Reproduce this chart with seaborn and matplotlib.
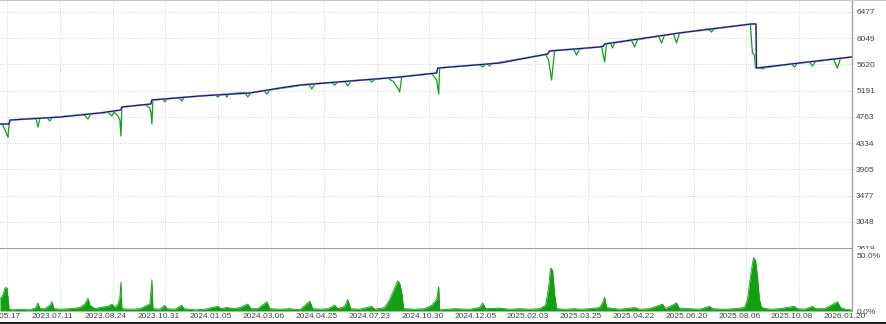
import numpy as np
import pandas as pd
import seaborn as sns
import matplotlib
matplotlib.use("Agg")
import matplotlib.pyplot as plt
from matplotlib.lines import Line2D
from matplotlib.patches import Rectangle
from matplotlib.transforms import ScaledTranslation

# ---------------- data ----------------
date_labels = ["2023.05.17", "2023.07.11", "2023.08.24", "2023.10.31", "2024.01.05",
               "2024.03.06", "2024.04.25", "2024.07.23", "2024.10.30", "2024.12.05",
               "2025.02.03", "2025.03.25", "2025.04.22", "2025.06.20", "2025.08.06",
               "2025.10.08", "2026.01.20"]
date_pos = [0, 10, 20, 30, 40, 50, 60, 70, 80, 90, 100, 110, 120, 130, 140, 150, 160]

price_ticks = [6477, 6049, 5620, 5191, 4763, 4334, 3905, 3477, 3048, 2619]

balance_x = [-1.32, 0.38, 0.57, 10.03, 17.60, 21.57, 21.76, 27.25, 27.44, 36.52,
             45.98, 51.66, 55.44, 74.36, 81.36, 81.55, 93.28, 102.36, 102.74,
             112.20, 112.96, 113.15, 127.34, 140.96, 141.82, 141.91, 150.05, 159.89]
balance_y = [4646, 4646, 4711, 4760, 4826, 4875, 4924, 4973, 5038, 5104,
             5153, 5234, 5283, 5414, 5480, 5561, 5643, 5790, 5839,
             5905, 5921, 5954, 6134, 6281, 6281, 5561, 5643, 5741]

equity_x = [-1.32, -0.76, 0.00, 0.19, 0.38, 0.57, 5.49, 5.87, 6.24, 7.57, 8.14, 8.51,
            14.57, 15.33, 15.89, 19.11, 19.87, 20.25, 21.00, 21.38, 21.57, 21.76,
            26.11, 27.06, 27.25, 27.44, 27.63, 29.52, 29.90, 30.27, 32.55, 33.11, 33.49,
            39.36, 39.92, 40.49, 41.25, 41.63, 42.01, 45.03, 45.60, 46.17,
            48.63, 49.20, 49.76, 57.14, 57.71, 58.28, 61.49, 62.06, 62.63,
            63.95, 64.52, 65.09, 68.50, 69.06, 69.63, 72.09, 73.23, 73.98, 74.36, 74.74,
            80.42, 81.36, 81.74, 81.93, 89.50, 90.07, 90.63, 91.01, 91.39, 91.77,
            101.99, 102.55, 103.12, 103.69, 107.28, 107.85, 108.42,
            112.58, 113.15, 113.53, 114.29, 114.66, 115.04, 118.26, 118.83, 119.39,
            123.37, 123.94, 124.50, 126.21, 126.77, 127.34, 132.83, 133.40, 133.96,
            140.77, 140.96, 141.15, 141.53, 141.72, 142.48, 143.05, 143.61,
            148.53, 149.10, 149.67, 151.94, 152.51, 153.08, 156.48, 157.24, 157.81, 159.89]
equity_y = [4646, 4629, 4466, 4433, 4613, 4711, 4737, 4597, 4739, 4747, 4695, 4752,
            4803, 4728, 4816, 4837, 4777, 4842, 4777, 4711, 4450, 4924,
            4963, 4907, 4842, 4646, 5038, 5053, 5006, 5059, 5074, 5022, 5081,
            5123, 5087, 5128, 5136, 5087, 5141, 5162, 5087, 5156,
            5192, 5136, 5202, 5295, 5218, 5303, 5326, 5283, 5333,
            5342, 5267, 5350, 5373, 5333, 5378, 5398, 5333, 5234, 5169, 5418,
            5471, 5365, 5136, 5561, 5617, 5578, 5625, 5628, 5594, 5633,
            5784, 5692, 5365, 5846, 5870, 5774, 5874,
            5911, 5660, 5959, 5967, 5888, 5972, 6013, 5905, 6021,
            6085, 5970, 6098, 6119, 5970, 6134, 6202, 6150, 6210,
            6279, 6019, 5807, 5774, 5561, 5565, 5545, 5568,
            5627, 5578, 5640, 5660, 5594, 5665, 5709, 5561, 5715, 5741]

load_x = [-1.32, -0.76, -0.38, 0.00, 0.19, 0.38, 0.95, 2.46, 4.35, 5.49, 5.87, 6.24,
          7.19, 8.14, 8.51, 8.89, 10.03, 11.92, 13.81, 14.76, 15.33, 15.70, 16.65,
          17.60, 19.11, 19.87, 20.44, 21.00, 21.38, 21.57, 21.76, 23.27, 25.17,
          26.11, 27.06, 27.44, 27.63, 28.95, 29.90, 30.27, 31.79, 33.11, 33.49,
          35.57, 37.46, 38.79, 39.92, 40.49, 41.63, 43.14, 44.09, 45.60, 46.17,
          47.49, 49.20, 49.76, 51.66, 53.55, 55.44, 57.33, 57.90, 59.22, 60.74,
          62.06, 62.63, 63.95, 64.52, 65.09, 66.79, 69.06, 69.63, 71.52, 72.47,
          73.23, 73.98, 74.36, 74.74, 75.12, 77.20, 79.09, 80.42, 81.36, 81.74,
          81.93, 84.77, 87.61, 89.50, 90.07, 90.63, 93.28, 95.17, 97.07, 98.96,
          100.85, 101.99, 102.55, 102.93, 103.31, 103.69, 104.07, 105.58, 107.47,
          108.42, 110.31, 112.20, 112.77, 113.15, 113.53, 115.99, 118.83, 119.77,
          121.66, 124.12, 124.69, 126.77, 127.34, 129.23, 131.13, 133.02, 133.59,
          135.86, 137.75, 139.64, 140.21, 140.77, 141.34, 141.72, 142.10, 142.48,
          142.86, 144.37, 146.26, 149.10, 149.67, 150.99, 152.51, 153.08, 154.78,
          156.10, 156.86, 157.24, 157.81, 158.75, 159.89]
load_y = [10, 14, 20, 20, 12, 2, 1, 1.5, 1, 3, 7, 2,
          2, 5, 8, 2, 1.5, 2, 3, 6, 11, 5, 2,
          3, 4, 6, 3, 6, 12, 25, 2, 1.5, 2,
          4, 6, 27, 2, 1.5, 5, 2, 1.5, 5, 2,
          1, 1.5, 3, 4, 2, 3, 2, 3, 6, 2,
          2, 8, 2, 1.5, 2, 1, 8.5, 2, 1.5, 2,
          5, 2, 4, 10, 2, 1.5, 4, 1.5, 3, 10,
          18, 26, 24, 16, 2, 1.5, 2, 5, 10, 21,
          1, 2, 1.5, 3, 7, 2, 2.5, 1.5, 2, 1.5,
          2, 5, 20, 37, 35, 15, 2, 1.5, 2,
          1.5, 2, 3, 7, 12, 3, 1.5, 3, 1.5,
          2, 6, 2, 7, 2, 2, 1.5, 4, 2,
          1.5, 2, 3, 10, 30, 46, 44, 30, 10,
          3, 1.5, 2, 4, 2, 1.5, 4, 2, 2,
          5, 7, 8, 3, 1.5, 1]

bal_df = pd.DataFrame({"x": balance_x, "v": balance_y})
eq_df = pd.DataFrame({"x": equity_x, "v": equity_y})
load_df = pd.DataFrame({"x": load_x, "v": load_y})

# ---------------- style ----------------
sns.set_style("white")
plt.rcParams["font.family"] = ["Liberation Sans", "DejaVu Sans"]
TXT = "#444444"
GRID = "#c4c4c4"
AXC = "#a0a0a0"
FS = 6.0

fig = plt.figure(figsize=(8.87, 3.24), dpi=100)
W, H = 887, 324
ax1 = fig.add_axes([0, 1 - 249 / H, 852 / W, 249 / H])
ax2 = fig.add_axes([0, (H - 311) / H, 852 / W, 62 / H])

# ---------------- top panel ----------------
sns.lineplot(data=eq_df, x="x", y="v", ax=ax1, color="#12a012", lw=0.9,
             estimator=None, sort=False, zorder=3)
sns.lineplot(data=bal_df, x="x", y="v", ax=ax1, color="#a4a4ea", lw=1.4,
             estimator=None, sort=False, zorder=4)
sns.lineplot(data=bal_df, x="x", y="v", ax=ax1, color="#141470", lw=0.8,
             estimator=None, sort=False, zorder=5)

ax1.set_xlim(-1.32, 160.0)
ax1.set_ylim(2603, 6673)
ax1.set_yticks(price_ticks)
ax1.set_yticklabels([str(t) for t in price_ticks])
ax1.set_xticks(date_pos)
ax1.tick_params(axis="x", labelbottom=False, length=0)
ax1.yaxis.tick_right()
ax1.tick_params(axis="y", length=0, pad=3, labelsize=FS, labelcolor=TXT)
ax1.grid(True, color=GRID, lw=0.6, linestyle=(0, (1, 2)))
ax1.set_xlabel("")
ax1.set_ylabel("")
for s in ["left", "top"]:
    ax1.spines[s].set_visible(False)
ax1.spines["right"].set_color(AXC)
ax1.spines["right"].set_linewidth(1.0)
ax1.spines["bottom"].set_color("#8c8c8c")
ax1.spines["bottom"].set_linewidth(1.2)

# ---------------- bottom panel ----------------
ax2.fill_between(load_df["x"], 0, load_df["v"], color="#12a012", lw=0, zorder=3)
sns.lineplot(data=load_df, x="x", y="v", ax=ax2, color="#12a012", lw=0.6,
             estimator=None, sort=False, zorder=4)
ax2.set_xlim(-1.32, 160.0)
ax2.set_ylim(0, 53.4)
ax2.set_yticks([0, 50])
ax2.set_yticklabels(["0.0%", "50.0%"])
ax2.yaxis.tick_right()
ax2.tick_params(axis="y", length=0, pad=3, labelsize=FS, labelcolor=TXT)
ax2.set_xticks(date_pos)
ax2.set_xticklabels(date_labels)
ax2.tick_params(axis="x", length=0, pad=1.2, labelsize=FS, labelcolor=TXT)
ax2.grid(True, axis="x", color=GRID, lw=0.6, linestyle=(0, (1, 2)))
ax2.grid(False, axis="y")
ax2.set_xlabel("")
ax2.set_ylabel("")
for s in ["left", "top", "bottom"]:
    ax2.spines[s].set_visible(False)
ax2.spines["right"].set_color(AXC)
ax2.spines["right"].set_linewidth(1.0)

off = ScaledTranslation(-7 / 100, 0, fig.dpi_scale_trans)
for lab in ax2.get_xticklabels():
    lab.set_transform(lab.get_transform() + off)
ylabs = ax2.get_yticklabels()
ylabs[1].set_transform(ylabs[1].get_transform() + ScaledTranslation(0, -3 / 100, fig.dpi_scale_trans))

# hide lower part of the clipped 2619 label
ax2.add_patch(Rectangle((1.003, 0.955), 0.04, 0.045, transform=ax2.transAxes,
                        facecolor="white", edgecolor="none", clip_on=False, zorder=1))

# frame lines of the window
fig.add_artist(Line2D([0, 1], [0.999, 0.999], color="#c8c8c8", lw=1.5))
fig.add_artist(Line2D([0, 1], [0.004, 0.004], color="#202020", lw=2.2))

fig.savefig("out.png", dpi=100)
